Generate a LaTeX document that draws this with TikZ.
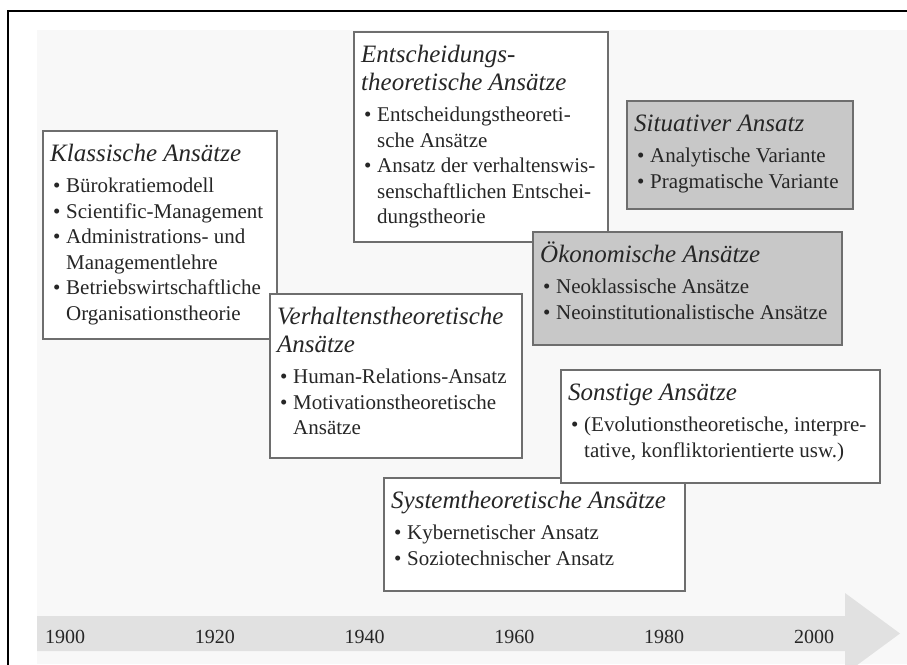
\documentclass[tikz,border=0pt]{standalone}
\usepackage{fontspec}
\setmainfont{Liberation Serif}
\usetikzlibrary{calc}

\definecolor{panelbg}{HTML}{F8F8F8}
\definecolor{boxgray}{HTML}{C8C8C8}
\definecolor{boxline}{HTML}{6E6E6E}
\definecolor{arrowgray}{HTML}{E1E1E1}
\definecolor{inkc}{HTML}{262626}

% heading line, bullet line, continuation line
\newcommand{\hd}[1]{\hbox{\fontsize{25}{28}\selectfont\itshape #1}}
\newcommand{\bi}[1]{\hbox{\makebox[16pt][l]{\hspace{3pt}\textbullet}#1}}
\newcommand{\ci}[1]{\hbox{\hspace*{16pt}#1}}
\newcommand{\gapA}{\vskip 6pt}
\newcommand{\gapT}{\vskip 2.5pt}

\tikzset{
  apbox/.style={draw=boxline, line width=1.4pt, fill=white, anchor=north west,
    inner sep=0pt, outer sep=0pt},
  apgray/.style={apbox, fill=boxgray},
  aptext/.style={anchor=base west, inner sep=0pt, text=inkc,
    font=\fontsize{21}{25.5}\selectfont},
  yearlbl/.style={anchor=base, inner sep=0pt, text=inkc,
    font=\fontsize{20}{24}\selectfont},
}

\begin{document}
\begin{tikzpicture}[x=1pt, y=-1pt]
\useasboundingbox (0,0) rectangle (907,664);
\clip (0,0) rectangle (907,664);

% panel background and outer frame
\fill[white] (0,0) rectangle (907,664);
\fill[panelbg] (37,30) rectangle (907,664);
\draw[black, line width=2pt] (8,680) -- (8,11) -- (920,11);

% time arrow
\fill[arrowgray] (37,616) -- (845,616) -- (845,593) -- (900,633.5)
  -- (845,674) -- (845,651) -- (37,651) -- cycle;
\foreach \yr [count=\i from 0] in {1900,1920,1940,1960,1980,2000}
  \node[yearlbl] (y\yr) at (65+149.8*\i, 643) {\yr};

% Klassische Ansaetze
\node[apbox, minimum width=234pt, minimum height=208pt] (klass) at (43,131) {};
\node[aptext] (klass-t) at ($(klass.north west)+(7,30)$) {\vtop{%
  \hd{Klassische Ansätze}\gapA
  \bi{Bürokratiemodell}
  \bi{Scientific-Management}
  \bi{Administrations- und}
  \ci{Managementlehre}
  \bi{Betriebswirtschaftliche}
  \ci{Organisationstheorie}}};

% Entscheidungstheoretische Ansaetze
\node[apbox, minimum width=254pt, minimum height=210pt] (ents) at (354,32) {};
\node[aptext] (ents-t) at ($(ents.north west)+(7,30)$) {\vtop{%
  \hd{Entscheidungs-}\gapT
  \hd{theoretische Ansätze}\gapA
  \bi{Entscheidungstheoreti-}
  \ci{sche Ansätze}
  \bi{Ansatz der verhaltenswis-}
  \ci{senschaftlichen Entschei-}
  \ci{dungstheorie}}};

% Situativer Ansatz
\node[apgray, minimum width=226pt, minimum height=108pt] (situ) at (627,101) {};
\node[aptext] (situ-t) at ($(situ.north west)+(7,30)$) {\vtop{%
  \hd{Situativer Ansatz}\gapA
  \bi{Analytische Variante}
  \bi{Pragmatische Variante}}};

% Verhaltenstheoretische Ansaetze
\node[apbox, minimum width=252pt, minimum height=164pt] (verh) at (270,294) {};
\node[aptext] (verh-t) at ($(verh.north west)+(7,30)$) {\vtop{%
  \hd{Verhaltenstheoretische}\gapT
  \hd{Ansätze}\gapA
  \bi{Human-Relations-Ansatz}
  \bi{Motivationstheoretische}
  \ci{Ansätze}}};

% Oekonomische Ansaetze
\node[apgray, minimum width=309pt, minimum height=113pt] (oeko) at (533,232) {};
\node[aptext] (oeko-t) at ($(oeko.north west)+(7,30)$) {\vtop{%
  \hd{Ökonomische Ansätze}\gapA
  \bi{Neoklassische Ansätze}
  \bi{Neoinstitutionalistische Ansätze}}};

% Systemtheoretische Ansaetze
\node[apbox, minimum width=301pt, minimum height=113pt] (syst) at (384,478) {};
\node[aptext] (syst-t) at ($(syst.north west)+(7,30)$) {\vtop{%
  \hd{Systemtheoretische Ansätze}\gapA
  \bi{Kybernetischer Ansatz}
  \bi{Soziotechnischer Ansatz}}};

% Sonstige Ansaetze
\node[apbox, minimum width=319pt, minimum height=113pt] (sonst) at (561,370) {};
\node[aptext] (sonst-t) at ($(sonst.north west)+(7,30)$) {\vtop{%
  \hd{Sonstige Ansätze}\gapA
  \bi{(Evolutionstheoretische, interpre-}
  \ci{tative, konfliktorientierte usw.)}}};
\end{tikzpicture}
\end{document}
